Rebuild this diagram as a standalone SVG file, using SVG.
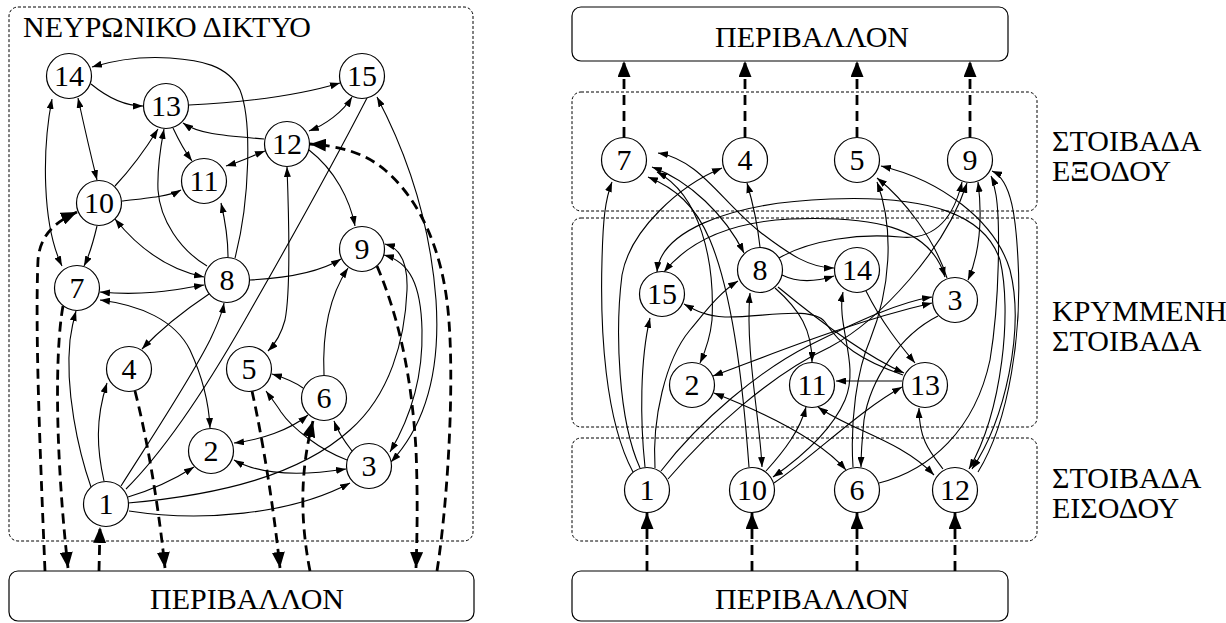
<svg xmlns="http://www.w3.org/2000/svg" width="1226" height="623" viewBox="0 0 1226 623">
<style>
.n circle{fill:#fff;stroke:#000;stroke-width:1.2}
text{font-family:'Liberation Serif','Times New Roman',serif;font-size:30px;fill:#000}
.n text{text-anchor:middle}
.e{fill:none;stroke:#000;stroke-width:1.1;marker-end:url(#ah)}
.b{marker-start:url(#ah)}
.p{fill:none;stroke:#000;stroke-width:1.1}
.d{fill:none;stroke:#000;stroke-width:2.8;stroke-dasharray:10 6;marker-end:url(#AH)}
.box{fill:none;stroke:#000;stroke-width:1;stroke-dasharray:3 2}
.env{fill:#fff;stroke:#000;stroke-width:1.2}
</style>
<defs>
<marker id="ah" viewBox="0 0 10 7" refX="10" refY="3.5" markerWidth="10" markerHeight="7" markerUnits="userSpaceOnUse" orient="auto-start-reverse"><path d="M0,0 L10,3.5 L0,7 z"/></marker>
<marker id="AH" viewBox="0 0 16 13" refX="16" refY="6.5" markerWidth="16" markerHeight="13" markerUnits="userSpaceOnUse" orient="auto"><path d="M0,0 L16,6.5 L0,13 z"/></marker>
</defs>
<rect width="1226" height="623" fill="#fff"/>

<g font-family="'Liberation Serif', serif">
<!-- frames -->
<g id="frames">
<rect class="box" x="9" y="7" width="464" height="534" rx="9"/>
<rect class="box" x="572" y="92" width="465" height="119" rx="9"/>
<rect class="box" x="572" y="218" width="465" height="209" rx="9"/>
<rect class="box" x="572" y="438" width="465" height="103" rx="9"/>
</g>

<g id="labels">
<text x="23" y="37">ΝΕΥΡΩΝΙΚΟ ΔΙΚΤΥΟ</text>
<text x="1052" y="151">ΣΤΟΙΒΑΔΑ<tspan x="1052" dy="30">ΕΞΟΔΟΥ</tspan></text>
<text x="1052" y="321">ΚΡΥΜΜΕΝΗ<tspan x="1052" dy="30">ΣΤΟΙΒΑΔΑ</tspan></text>
<text x="1052" y="488">ΣΤΟΙΒΑΔΑ<tspan x="1052" dy="30">ΕΙΣΟΔΟΥ</tspan></text>
</g>

<g id="env-left"><rect class="env" x="9" y="571" width="465" height="50" rx="9"/><text x="247" y="609" text-anchor="middle">ΠΕΡΙΒΑΛΛΟΝ</text></g>
<g id="env-right-top"><rect class="env" x="572" y="7" width="436" height="54" rx="9"/><text x="812" y="47" text-anchor="middle">ΠΕΡΙΒΑΛΛΟΝ</text></g>
<g id="env-right-bottom"><rect class="env" x="572" y="571" width="436" height="50" rx="9"/><text x="812" y="609" text-anchor="middle">ΠΕΡΙΒΑΛΛΟΝ</text></g>

<g id="connectors">
<!-- network view -->
<path class="e" d="M91,84 C108,98 124,106 143,106"/>
<path class="e" d="M189,105 C250,102 300,95 340,83"/>
<path class="e" d="M235,258 C250,200 252,120 240,90 C228,65 200,60 170,58 C140,56 115,60 92,67"/>
<path class="e b" d="M78,98 C85,130 92,160 97,180"/>
<path class="e b" d="M52,99 C42,150 42,225 62,266"/>
<path class="e" d="M115,186 C130,170 145,150 158,129"/>
<path class="e" d="M207,266 C180,250 160,220 158,190 C157,165 161,145 164,129"/>
<path class="e" d="M173,128 C180,143 186,153 192,161"/>
<path class="e" d="M264,139 C230,136 200,135 183,123"/>
<path class="e b" d="M226,166 C240,162 252,156 265,151"/>
<path class="e b" d="M352,97 C343,112 325,125 309,131"/>
<path class="e" d="M122,201 C150,198 170,196 181,190"/>
<path class="e b" d="M115,219 C140,250 170,270 204,277"/>
<path class="e" d="M97,226 C93,243 89,256 84,266"/>
<path class="e" d="M228,257 C228,238 225,220 221,203"/>
<path class="e" d="M309,150 C335,170 350,200 355,226"/>
<path class="e" d="M250,280 C290,278 320,272 341,259"/>
<path class="e b" d="M100,292 C140,296 170,291 204,285"/>
<path class="e" d="M209,294 C185,310 160,330 142,349"/>
<path class="e b" d="M100,300 C140,305 175,320 190,350 C203,378 209,405 210,428"/>
<path class="e" d="M91,487 C78,450 65,390 70,340 C72,326 74,318 76,311"/>
<path class="e" d="M104,481 C97,450 95,420 107,383"/>
<path class="e" d="M121,486 C150,440 190,380 210,340 C217,325 222,315 224,303"/>
<path class="p" d="M367,98 C330,170 285,250 245,320 C205,390 165,450 126,489"/>
<path class="e b" d="M287,167 C289,220 291,290 285,320 C281,335 276,343 268,351"/>
<path class="e" d="M324,375 C322,330 330,295 348,268"/>
<path class="e" d="M303,388 C295,382 285,378 272,374"/>
<path class="e" d="M347,460 C320,450 292,428 281,412 C276,404 271,398 266,391"/>
<path class="e" d="M352,451 C345,442 338,432 334,421"/>
<path class="e b" d="M234,443 C260,440 290,430 308,415"/>
<path class="e b" d="M234,460 C260,475 300,476 346,469"/>
<path class="e" d="M128,497 C155,489 175,479 194,467"/>
<path class="e" d="M128,503 C220,495 300,475 350,430 C390,395 405,340 407,290 C408,262 400,248 385,244"/>
<path class="e" d="M129,511 C200,522 290,515 350,483"/>
<path class="e b" d="M384,255 C410,262 421,285 422,330 C423,370 415,410 390,452"/>
<path class="e b" d="M377,97 C405,150 430,220 436,300 C440,360 430,420 391,462"/>
<path class="d" d="M45,571 C40,450 35,330 38,260 C40,235 55,222 77,212"/>
<path class="d" d="M63,306 C55,350 55,450 68,568"/>
<path class="d" d="M99,571 L100,527"/>
<path class="d" d="M135,391 C150,450 160,520 165,568"/>
<path class="d" d="M252,391 C265,450 275,520 280,568"/>
<path class="d" d="M310,571 C300,520 300,470 313,421"/>
<path class="d" d="M377,266 C400,320 412,380 416,450 C418,500 417,540 416,568"/>
<path class="d" d="M437,571 C448,500 455,380 448,310 C442,250 420,200 385,170 C365,153 340,146 310,144"/>

<!-- layered view -->
<path class="d" d="M647,571 L647,513"/>
<path class="d" d="M752,571 L752,513"/>
<path class="d" d="M857,571 L857,513"/>
<path class="d" d="M955,571 L955,513"/>
<path class="d" d="M624,137 L624,61"/>
<path class="d" d="M745,137 L745,61"/>
<path class="d" d="M857,137 L857,61"/>
<path class="d" d="M970,137 L970,61"/>
<path class="e" d="M866,291 C882,323 900,345 915,363"/>
<path class="e" d="M903,375 C860,360 840,345 825,322 C812,305 760,318 725,317 C705,316 695,310 684,304"/>
<path class="e" d="M782,275 C798,283 815,282 834,276"/>
<path class="e b" d="M843,292 C836,325 860,365 845,400 C832,430 800,458 773,477"/>
<path class="e b" d="M658,153 C700,160 720,200 760,232 C790,255 810,268 834,268"/>
<path class="e" d="M774,483 C815,455 860,410 902,387"/>
<path class="e" d="M778,287 C830,330 870,358 904,373"/>
<path class="e" d="M902,381 L836,381"/>
<path class="e" d="M943,469 C930,452 919,440 919,408"/>
<path class="e b" d="M934,475 C900,440 850,430 818,407"/>
<path class="e b" d="M657,272 C660,235 720,203 830,199 C930,195 985,215 1000,260 C1012,310 1003,410 969,469"/>
<path class="e" d="M766,471 C785,450 800,430 806,407"/>
<path class="e b" d="M750,293 C745,350 760,420 762,467"/>
<path class="e" d="M749,467 C744,400 735,300 710,240 C695,205 675,188 648,177"/>
<path class="e" d="M775,288 C800,310 812,330 812,362"/>
<path class="e" d="M978,472 C1010,420 1022,330 1018,260 C1016,220 1012,180 992,171"/>
<path class="e" d="M779,258 C810,240 860,233 900,237 C930,240 952,225 962,182"/>
<path class="e b" d="M652,167 C690,181 725,215 744,253"/>
<path class="e" d="M760,247 C757,220 752,200 747,183"/>
<path class="e b" d="M657,172 C700,195 715,260 712,320 C710,340 705,352 700,363"/>
<path class="e" d="M633,472 C605,420 600,330 602,260 C603,220 605,200 612,182"/>
<path class="e" d="M640,468 C618,420 615,330 622,275 C630,230 680,185 722,168"/>
<path class="e" d="M655,468 C652,420 665,360 690,330 C705,312 720,292 738,281"/>
<path class="e" d="M645,467 C640,420 640,360 650,318"/>
<path class="e b" d="M881,166 C940,180 995,220 1010,270 C1025,330 1005,420 972,469"/>
<path class="e" d="M879,483 C930,470 975,430 990,360 C1000,300 1000,220 996,195 C994,185 993,180 991,176"/>
<path class="e" d="M853,467 C850,420 857,370 870,340 C890,290 895,230 877,182"/>
<path class="e" d="M947,278 C935,240 905,200 877,178"/>
<path class="e b" d="M664,272 C690,240 730,222 790,219 C870,216 930,225 945,277"/>
<path class="e" d="M938,316 C900,335 870,380 864,420 C862,440 861,455 861,467"/>
<path class="e b" d="M714,393 C770,415 820,440 846,470"/>
<path class="e b" d="M978,182 C983,220 979,255 968,280"/>
<path class="e" d="M661,471 C700,420 760,370 810,345 C860,320 900,302 932,297"/>
<path class="e" d="M668,479 C710,430 770,375 830,347 C880,320 945,250 967,183"/>
<path class="e b" d="M713,376 C770,355 850,322 932,303"/>
</g>

<!-- network view nodes -->
<g id="l14" class="n"><circle cx="69" cy="76" r="22.5"/><text x="69" y="86">14</text></g>
<g id="l13" class="n"><circle cx="166" cy="106" r="22.5"/><text x="166" y="116">13</text></g>
<g id="l15" class="n"><circle cx="362" cy="76" r="22.5"/><text x="362" y="86">15</text></g>
<g id="l12" class="n"><circle cx="287" cy="144" r="22.5"/><text x="287" y="154">12</text></g>
<g id="l11" class="n"><circle cx="204" cy="181" r="22.5"/><text x="204" y="191">11</text></g>
<g id="l10" class="n"><circle cx="99" cy="203" r="22.5"/><text x="99" y="213">10</text></g>
<g id="l9" class="n"><circle cx="362" cy="249" r="22.5"/><text x="362" y="259">9</text></g>
<g id="l8" class="n"><circle cx="227" cy="280" r="22.5"/><text x="227" y="290">8</text></g>
<g id="l7" class="n"><circle cx="77" cy="288" r="22.5"/><text x="77" y="298">7</text></g>
<g id="l4" class="n"><circle cx="129" cy="369" r="22.5"/><text x="129" y="379">4</text></g>
<g id="l5" class="n"><circle cx="249" cy="369" r="22.5"/><text x="249" y="379">5</text></g>
<g id="l6" class="n"><circle cx="324" cy="398" r="22.5"/><text x="324" y="408">6</text></g>
<g id="l2" class="n"><circle cx="211" cy="451" r="22.5"/><text x="211" y="461">2</text></g>
<g id="l3" class="n"><circle cx="369" cy="466" r="22.5"/><text x="369" y="476">3</text></g>
<g id="l1" class="n"><circle cx="106" cy="504" r="22.5"/><text x="106" y="514">1</text></g>

<!-- layered view nodes -->
<g id="r7" class="n"><circle cx="624" cy="160" r="22.5"/><text x="624" y="170">7</text></g>
<g id="r4" class="n"><circle cx="745" cy="160" r="22.5"/><text x="745" y="170">4</text></g>
<g id="r5" class="n"><circle cx="857" cy="160" r="22.5"/><text x="857" y="170">5</text></g>
<g id="r9" class="n"><circle cx="970" cy="160" r="22.5"/><text x="970" y="170">9</text></g>
<g id="r8" class="n"><circle cx="760" cy="270" r="22.5"/><text x="760" y="280">8</text></g>
<g id="r14" class="n"><circle cx="857" cy="270" r="22.5"/><text x="857" y="280">14</text></g>
<g id="r15" class="n"><circle cx="662" cy="294" r="22.5"/><text x="662" y="304">15</text></g>
<g id="r3" class="n"><circle cx="955" cy="300" r="22.5"/><text x="955" y="310">3</text></g>
<g id="r2" class="n"><circle cx="692" cy="385" r="22.5"/><text x="692" y="395">2</text></g>
<g id="r11" class="n"><circle cx="812" cy="385" r="22.5"/><text x="812" y="395">11</text></g>
<g id="r13" class="n"><circle cx="925" cy="385" r="22.5"/><text x="925" y="395">13</text></g>
<g id="r1" class="n"><circle cx="647" cy="490" r="22.5"/><text x="647" y="500">1</text></g>
<g id="r10" class="n"><circle cx="752" cy="490" r="22.5"/><text x="752" y="500">10</text></g>
<g id="r6" class="n"><circle cx="857" cy="490" r="22.5"/><text x="857" y="500">6</text></g>
<g id="r12" class="n"><circle cx="955" cy="490" r="22.5"/><text x="955" y="500">12</text></g>
</g>
</svg>
